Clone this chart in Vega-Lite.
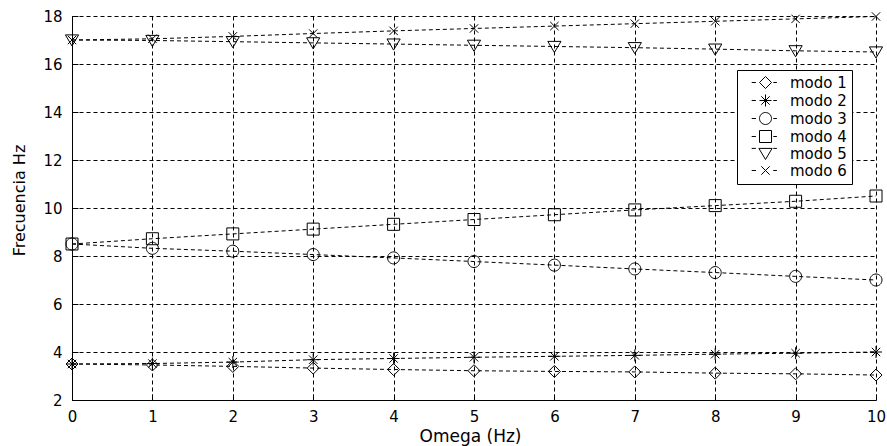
{
  "$schema": "https://vega.github.io/schema/vega-lite/v6.json",
  "width": 804,
  "height": 384,
  "autosize": "none",
  "padding": {"left": 72, "top": 16, "right": 11, "bottom": 46},
  "background": "white",
  "data": {
    "values": [
      {"omega": 0, "modo": "modo 1", "f": 3.5},
      {"omega": 1, "modo": "modo 1", "f": 3.46},
      {"omega": 2, "modo": "modo 1", "f": 3.4},
      {"omega": 3, "modo": "modo 1", "f": 3.33},
      {"omega": 4, "modo": "modo 1", "f": 3.27},
      {"omega": 5, "modo": "modo 1", "f": 3.22},
      {"omega": 6, "modo": "modo 1", "f": 3.19},
      {"omega": 7, "modo": "modo 1", "f": 3.17},
      {"omega": 8, "modo": "modo 1", "f": 3.12},
      {"omega": 9, "modo": "modo 1", "f": 3.09},
      {"omega": 10, "modo": "modo 1", "f": 3.04},
      {"omega": 0, "modo": "modo 2", "f": 3.5},
      {"omega": 1, "modo": "modo 2", "f": 3.52},
      {"omega": 2, "modo": "modo 2", "f": 3.58},
      {"omega": 3, "modo": "modo 2", "f": 3.68},
      {"omega": 4, "modo": "modo 2", "f": 3.73},
      {"omega": 5, "modo": "modo 2", "f": 3.78},
      {"omega": 6, "modo": "modo 2", "f": 3.82},
      {"omega": 7, "modo": "modo 2", "f": 3.86},
      {"omega": 8, "modo": "modo 2", "f": 3.91},
      {"omega": 9, "modo": "modo 2", "f": 3.95},
      {"omega": 10, "modo": "modo 2", "f": 4.0},
      {"omega": 0, "modo": "modo 3", "f": 8.5},
      {"omega": 1, "modo": "modo 3", "f": 8.32},
      {"omega": 2, "modo": "modo 3", "f": 8.2},
      {"omega": 3, "modo": "modo 3", "f": 8.06},
      {"omega": 4, "modo": "modo 3", "f": 7.92},
      {"omega": 5, "modo": "modo 3", "f": 7.77},
      {"omega": 6, "modo": "modo 3", "f": 7.62},
      {"omega": 7, "modo": "modo 3", "f": 7.46},
      {"omega": 8, "modo": "modo 3", "f": 7.31},
      {"omega": 9, "modo": "modo 3", "f": 7.15},
      {"omega": 10, "modo": "modo 3", "f": 7.0},
      {"omega": 0, "modo": "modo 4", "f": 8.5},
      {"omega": 1, "modo": "modo 4", "f": 8.72},
      {"omega": 2, "modo": "modo 4", "f": 8.92},
      {"omega": 3, "modo": "modo 4", "f": 9.12},
      {"omega": 4, "modo": "modo 4", "f": 9.32},
      {"omega": 5, "modo": "modo 4", "f": 9.52},
      {"omega": 6, "modo": "modo 4", "f": 9.72},
      {"omega": 7, "modo": "modo 4", "f": 9.92},
      {"omega": 8, "modo": "modo 4", "f": 10.1},
      {"omega": 9, "modo": "modo 4", "f": 10.28},
      {"omega": 10, "modo": "modo 4", "f": 10.5},
      {"omega": 0, "modo": "modo 5", "f": 17.0},
      {"omega": 1, "modo": "modo 5", "f": 16.98},
      {"omega": 2, "modo": "modo 5", "f": 16.93},
      {"omega": 3, "modo": "modo 5", "f": 16.88},
      {"omega": 4, "modo": "modo 5", "f": 16.83},
      {"omega": 5, "modo": "modo 5", "f": 16.78},
      {"omega": 6, "modo": "modo 5", "f": 16.73},
      {"omega": 7, "modo": "modo 5", "f": 16.68},
      {"omega": 8, "modo": "modo 5", "f": 16.62},
      {"omega": 9, "modo": "modo 5", "f": 16.55},
      {"omega": 10, "modo": "modo 5", "f": 16.5},
      {"omega": 0, "modo": "modo 6", "f": 17.0},
      {"omega": 1, "modo": "modo 6", "f": 17.05},
      {"omega": 2, "modo": "modo 6", "f": 17.15},
      {"omega": 3, "modo": "modo 6", "f": 17.27},
      {"omega": 4, "modo": "modo 6", "f": 17.38},
      {"omega": 5, "modo": "modo 6", "f": 17.48},
      {"omega": 6, "modo": "modo 6", "f": 17.58},
      {"omega": 7, "modo": "modo 6", "f": 17.68},
      {"omega": 8, "modo": "modo 6", "f": 17.78},
      {"omega": 9, "modo": "modo 6", "f": 17.88},
      {"omega": 10, "modo": "modo 6", "f": 17.98}
    ]
  },
  "encoding": {
    "x": {
      "field": "omega",
      "type": "quantitative",
      "scale": {"domain": [0, 10], "nice": false},
      "axis": {
        "title": "Omega (Hz)",
        "values": [0, 1, 2, 3, 4, 5, 6, 7, 8, 9, 10],
        "tickSize": -6,
        "labelPadding": 15,
        "titleFontSize": 17,
        "titleX": 398,
        "titleY": 41,
        "titleBaseline": "alphabetic",
        "titleAnchor": "middle"
      }
    },
    "y": {
      "field": "f",
      "type": "quantitative",
      "scale": {"domain": [2, 18], "nice": false},
      "axis": {
        "title": "Frecuencia Hz",
        "values": [2, 4, 6, 8, 10, 12, 14, 16, 18],
        "tickSize": -6,
        "labelPadding": 16,
        "titleFontSize": 16,
        "titleX": -53,
        "titleY": 184,
        "titleBaseline": "middle",
        "titleAnchor": "middle"
      }
    }
  },
  "layer": [
    {
      "mark": {"type": "line", "color": "black", "strokeDash": [4, 3], "strokeWidth": 1},
      "encoding": {"detail": {"field": "modo", "type": "nominal"}}
    },
    {
      "mark": {"type": "point", "filled": false, "color": "black", "size": 144, "strokeWidth": 1, "opacity": 1},
      "encoding": {
        "shape": {
          "field": "modo",
          "type": "nominal",
          "scale": {
            "domain": ["modo 1", "modo 2", "modo 3", "modo 4", "modo 5", "modo 6"],
            "range": [
              "M0,-1L1,0L0,1L-1,0Z",
              "M-1,0L1,0M0,-1L0,1M-0.7,-0.7L0.7,0.7M-0.7,0.7L0.7,-0.7",
              "M-1,0A1,1 0 1,0 1,0A1,1 0 1,0 -1,0Z",
              "M-1,-1L1,-1L1,1L-1,1Z",
              "M-1.1,-0.85L1.1,-0.85L0,1Z",
              "M-0.7,-0.7L0.7,0.7M-0.7,0.7L0.7,-0.7"
            ]
          },
          "legend": null
        }
      }
    },
    {
      "mark": {"type": "point", "filled": false, "color": "black", "size": 144, "strokeWidth": 1, "opacity": 0},
      "encoding": {
        "shape": {
          "field": "modo",
          "type": "nominal",
          "scale": {
            "domain": ["modo 1", "modo 2", "modo 3", "modo 4", "modo 5", "modo 6"],
            "range": [
              "M0,-1L1,0L0,1L-1,0ZM-2.3,0L-1.6,0M1.3,0L1.9,0",
              "M-1,0L1,0M0,-1L0,1M-0.7,-0.7L0.7,0.7M-0.7,0.7L0.7,-0.7M-2.3,0L-1.6,0M1.3,0L1.9,0",
              "M-1,0A1,1 0 1,0 1,0A1,1 0 1,0 -1,0ZM-2.3,0L-1.6,0M1.3,0L1.9,0",
              "M-1,-1L1,-1L1,1L-1,1ZM-2.3,0L-1.6,0M1.3,0L1.9,0",
              "M-1.1,-0.85L1.1,-0.85L0,1ZM-2.3,-0.85L-1.6,-0.85M1.3,-0.85L1.9,-0.85",
              "M-0.7,-0.7L0.7,0.7M-0.7,0.7L0.7,-0.7M-2.3,0L-1.6,0M1.3,0L1.9,0"
            ]
          },
          "legend": {
            "title": null,
            "orient": "none",
            "legendX": 665,
            "legendY": 54,
            "strokeColor": "black",
            "fillColor": "white",
            "padding": 5,
            "symbolSize": 144,
            "symbolStrokeColor": "black",
            "symbolFillColor": "transparent",
            "symbolStrokeWidth": 1,
            "symbolOpacity": 1,
            "symbolOffset": 16,
            "labelOffset": 17,
            "labelFont": "DejaVu Sans",
            "labelFontSize": 15,
            "labelColor": "black",
            "rowPadding": 1
          }
        }
      }
    }
  ],
  "resolve": {"scale": {"shape": "independent"}},
  "config": {
    "view": {"stroke": null},
    "axis": {
      "domainColor": "black",
      "domainWidth": 1,
      "grid": true,
      "gridColor": "black",
      "gridDash": [4, 3],
      "gridOpacity": 1,
      "gridWidth": 1,
      "tickColor": "black",
      "tickWidth": 1,
      "labelFont": "DejaVu Sans",
      "labelFontSize": 15,
      "labelColor": "black",
      "labelFlush": false,
      "labelOverlap": false,
      "titleFont": "DejaVu Sans",
      "titleFontWeight": "normal",
      "titleColor": "black"
    }
  }
}
